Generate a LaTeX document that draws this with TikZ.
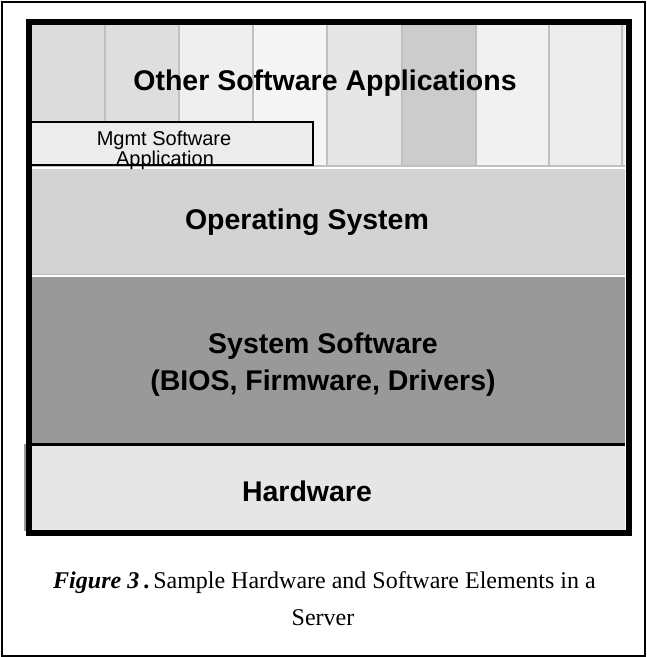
\documentclass[tikz,border=0pt]{standalone}
\usepackage{fontspec}
\setmainfont{Liberation Serif}
\newfontfamily\arialfont{Liberation Sans}
\definecolor{colA}{HTML}{DCDCDC}
\definecolor{colB}{HTML}{DEDEDE}
\definecolor{colC}{HTML}{EFEFEF}
\definecolor{colD}{HTML}{F5F5F5}
\definecolor{colE}{HTML}{E6E6E6}
\definecolor{colF}{HTML}{CCCCCC}
\definecolor{colG}{HTML}{F1F1F1}
\definecolor{colH}{HTML}{EDEDED}
\definecolor{sepgray}{HTML}{C0C0C0}
\definecolor{osgray}{HTML}{D3D3D3}
\definecolor{sysgray}{HTML}{999999}
\definecolor{hwgray}{HTML}{E6E6E6}
\definecolor{mgmtgray}{HTML}{ECECEC}
\tikzset{
  layerlabel/.style={anchor=base, inner sep=0pt, font=\arialfont\bfseries\fontsize{28.5}{34}\selectfont},
  smalllabel/.style={anchor=base, inner sep=0pt, font=\arialfont\fontsize{20}{24}\selectfont},
  captionline/.style={anchor=base, inner sep=0pt, font=\fontsize{24}{29}\selectfont},
  columnsep/.style={draw=sepgray, line width=1.5pt},
}
\begin{document}
\begin{tikzpicture}[x=1pt, y=-1pt]
\useasboundingbox (0,0) rectangle (647,657);
\fill[white] (0,0) rectangle (647,657);

% application columns
\foreach \xa/\xb/\c in {32/105/colA,105/179/colB,179/253/colC,253/327/colD,327/402/colE,402/476/colF,476/549/colG,549/625/colH}
  \fill[\c] (\xa,24) rectangle (\xb,166);
\foreach \xs in {105,179,253,327,402,476,549,622}
  \draw[columnsep] (\xs,24) -- (\xs,166);
\draw[sepgray, line width=2pt] (32,166) -- (625,166);
\draw[white, line width=1pt] (32,168.5) -- (625,168.5);

% operating system layer
\fill[osgray] (32,169) rectangle (625,274);
\draw[sepgray, line width=1.5pt] (32,274.7) -- (625,274.7);
\draw[white, line width=1.5pt] (32,276.2) -- (625,276.2);

% system software layer
\fill[sysgray] (32,277) rectangle (625,443);

% hardware layer
\fill[sepgray!80!black] (23.5,444) rectangle (26,531);
\fill[hwgray] (32,446) rectangle (625,530);
\draw[black, line width=3pt] (32,444.5) -- (625,444.5);

% management application box
\draw[black, line width=2pt, fill=mgmtgray] (31,121.5) rectangle (312.8,164.5);

% thick outer stack frame
\draw[black, line width=6pt] (29,21.5) rectangle (628.8,533);

% caption frame
\draw[black, line width=2pt] (2,1.5) rectangle (645,656);

% labels
\node[layerlabel] (apps) at (325,90) {Other Software Applications};
\node[smalllabel] (mgmt1) at (164,145) {Mgmt Software};
\node[smalllabel] (mgmt2) at (165,165) {Application};
\node[layerlabel] (os) at (307,229) {Operating System};
\node[layerlabel] (sys1) at (323,353) {System Software};
\node[layerlabel] (sys2) at (323,390) {(BIOS, Firmware, Drivers)};
\node[layerlabel] (hw) at (307,501) {Hardware};

\node[captionline] (cap1) at (324.5,588) {{\bfseries\itshape Figure 3}\hspace{4pt}{\bfseries .}\hspace{4pt}Sample Hardware and Software Elements in a};
\node[captionline] (cap2) at (323,625) {Server};
\end{tikzpicture}
\end{document}
